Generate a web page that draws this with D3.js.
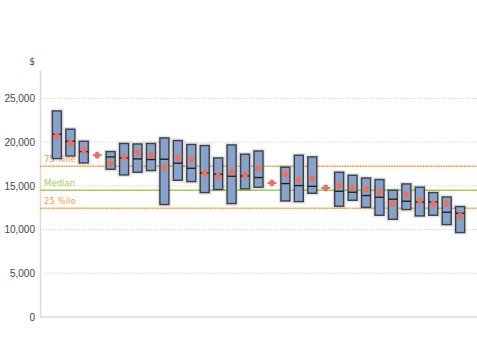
<!DOCTYPE html>
<html>
<head>
<meta charset="utf-8">
<script src="https://cdnjs.cloudflare.com/ajax/libs/d3/7.8.5/d3.min.js"></script>
<style>
	body { margin: 0; background: #fff; }
	svg { display: block; font-family: "Liberation Sans Narrow", "DejaVu Sans Condensed", sans-serif; }
	.tick text { fill: #444; font-size: 10px; }
</style>
</head>
<body>
<div id="chart"></div>
<script>
'use strict';

// categories (labels are cut off in the picture, so just numbered)
var categories = d3.range(1, 32).map(function(i){ return 'C' + i; });

// box top / bottom, median bar, mean dot
var upper = [23570, 21480, 20100, 18500, 18920, 19840, 19790, 19840, 20480, 20180,
	19730, 19610, 18190, 19680, 18620, 18990, 15330, 17130, 18500, 18310,
	14760, 16560, 16210, 15900, 15720, 14500, 15220, 14840, 14230, 13730, 12630];
var lower = [18120, 18420, 17620, 18500, 16900, 16250, 16560, 16750, 12860, 15640,
	15490, 14230, 14580, 12970, 14650, 14840, 15330, 13270, 13200, 14150,
	14760, 12670, 13350, 12550, 11640, 11180, 12290, 11560, 11640, 10570, 9660];
var medians = [20900, 20100, 18920, 18500, 18310, 18190, 18080, 18010, 18040, 17590,
	17010, 16480, 16330, 16100, 16130, 15950, 15330, 15260, 15030, 14950,
	14760, 14380, 14270, 13890, 13700, 13470, 13240, 13160, 13160, 11980, 11860];
var means = [20710, 19910, 19070, 18500, 17550, 18310, 18810, 18470, 17050, 18190,
	18010, 16440, 16100, 16560, 16210, 17010, 15330, 16330, 15640, 15830,
	14760, 15030, 14760, 14650, 14270, 13010, 14000, 13320, 12930, 12970, 11560];

// reference lines across the whole chart
var refNames = ['75 %ile', 'Median', '25 %ile'];
var refValues = [17250, 14500, 12450];
var refColors = ['#f7a04b', '#a8cc5a', '#f7a04b'];

var yTicks = [0, 5000, 10000, 15000, 20000, 25000];

var data = categories.map(function(c, i){
	return { name: c, hi: upper[i], lo: lower[i], med: medians[i], mean: means[i] };
});

var width = 477;
var height = 343;
var margin = {top: 70, right: 0, bottom: 26, left: 40};

var svg = d3.select('#chart').append('svg')
	.attr('width', width)
	.attr('height', height);

var xScale = d3.scaleBand()
	.domain(categories)
	.range([margin.left, width - margin.right])
	.paddingInner(0.33)
	.paddingOuter(0.92);

var yScale = d3.scaleLinear()
	.domain([0, 28250])
	.range([height - margin.bottom, margin.top]);

///////////////////////////////////////////
//////////////// GRID /////////////////////
///////////////////////////////////////////
svg.append('g').attr('class', 'grid')
	.selectAll('line').data(yTicks.filter(function(d){ return d > 0; }))
	.enter().append('line')
		.attr('x1', margin.left)
		.attr('x2', width - margin.right)
		.attr('y1', function(d){ return yScale(d); })
		.attr('y2', function(d){ return yScale(d); })
		.attr('stroke', '#d6d6d6')
		.attr('stroke-dasharray', '1.5,1.5');

var yAxis = d3.axisLeft(yScale)
	.tickValues(yTicks)
	.tickFormat(d3.format(','))
	.tickSize(0)
	.tickPadding(5);

var gy = svg.append('g')
	.attr('class', 'axis y')
	.attr('transform', 'translate(' + margin.left + ',0)')
	.call(yAxis);
gy.select('.domain').attr('stroke', '#d9d9d9').attr('stroke-width', 1.5);

svg.append('line')
	.attr('x1', margin.left)
	.attr('x2', width - margin.right)
	.attr('y1', yScale(0))
	.attr('y2', yScale(0))
	.attr('stroke', '#d9d9d9')
	.attr('stroke-width', 1.5);

svg.append('text')
	.attr('x', 32)
	.attr('y', 65)
	.attr('text-anchor', 'middle')
	.attr('fill', '#444')
	.style('font-size', '10px')
	.text('$');

///////////////////////////////////////////
/////////////// REF LINES /////////////////
///////////////////////////////////////////
var refs = svg.append('g').attr('class', 'refs')
	.selectAll('g').data(refValues)
	.enter().append('g');

refs.append('line')
	.attr('x1', margin.left)
	.attr('x2', width - margin.right)
	.attr('y1', function(d){ return yScale(d); })
	.attr('y2', function(d){ return yScale(d); })
	.attr('stroke', function(d, i){ return refColors[i]; })
	.attr('stroke-width', 1.5)
	.attr('stroke-dasharray', function(d, i){ return i === 1 ? null : '2,0.6'; });

///////////////////////////////////////////
///////////////// BOXES ///////////////////
///////////////////////////////////////////
var boxes = svg.append('g').attr('class', 'boxes')
	.selectAll('g').data(data)
	.enter().append('g');

var flat = function(d){ return d.hi === d.lo; };

// faint halo round each box
boxes.filter(function(d){ return !flat(d); }).append('rect')
	.attr('x', function(d){ return xScale(d.name) - 1; })
	.attr('y', function(d){ return yScale(d.hi) - 1; })
	.attr('width', xScale.bandwidth() + 2)
	.attr('height', function(d){ return yScale(d.lo) - yScale(d.hi) + 2; })
	.attr('fill', 'none')
	.attr('stroke', '#000')
	.attr('stroke-opacity', 0.1)
	.attr('stroke-width', 2.5);

boxes.filter(function(d){ return !flat(d); }).append('rect')
	.attr('x', function(d){ return xScale(d.name); })
	.attr('y', function(d){ return yScale(d.hi); })
	.attr('width', xScale.bandwidth())
	.attr('height', function(d){ return yScale(d.lo) - yScale(d.hi); })
	.attr('fill', '#86a4cb')
	.attr('stroke', '#3d3f44')
	.attr('stroke-width', 1.4);

// median bar, or a flat grey bar when the box has no height
boxes.append('line')
	.attr('x1', function(d){ return xScale(d.name); })
	.attr('x2', function(d){ return xScale(d.name) + xScale.bandwidth(); })
	.attr('y1', function(d){ return yScale(d.med); })
	.attr('y2', function(d){ return yScale(d.med); })
	.attr('stroke', function(d){ return flat(d) ? '#8c8f96' : '#222'; })
	.attr('stroke-width', function(d){ return flat(d) ? 2 : 1.4; });

boxes.append('ellipse')
	.attr('cx', function(d){ return xScale(d.name) + xScale.bandwidth() / 2; })
	.attr('cy', function(d){ return yScale(d.mean); })
	.attr('rx', 2.6)
	.attr('ry', 3.4)
	.attr('fill', '#f46e5c');

// ref labels sit on top of everything
refs.append('text')
	.attr('x', 44)
	.attr('y', function(d){ return yScale(d) - 4.5; })
	.attr('fill', function(d, i){ return refColors[i]; })
	.style('font-size', '9.5px')
	.text(function(d, i){ return refNames[i]; });
</script>
</body>
</html>
